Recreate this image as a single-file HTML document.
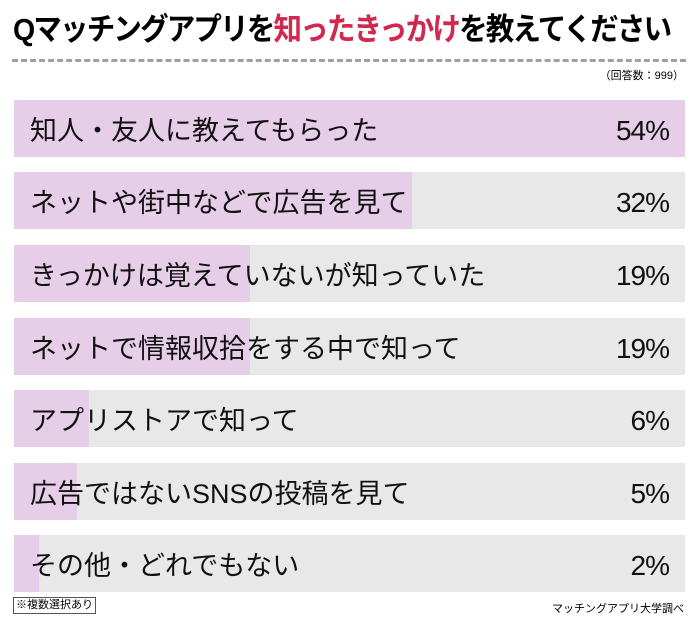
<!DOCTYPE html>
<html><head><meta charset="utf-8"><style>
body{margin:0;width:700px;height:629px;background:#fff;font-family:"Liberation Sans","Noto Sans CJK JP",sans-serif;position:relative;overflow:hidden}
.t{position:absolute;left:13px;top:8px;font-size:31px;font-weight:bold;letter-spacing:-2px;white-space:nowrap;line-height:44px;transform:scaleX(0.92);transform-origin:left}
.t span{color:#d0294f}
.dash{position:absolute;left:12px;top:59px;width:674px;border-top:3px dashed #a0a0a0}
.n{position:absolute;right:16px;top:67px;font-size:11px}
.row{position:absolute;left:14px;width:671px;height:57px;background:#e8e8e8}
.f{position:absolute;left:0;top:0;height:100%;background:#e6cde8}
.l{position:absolute;left:16px;top:0;line-height:63px;font-size:27px;white-space:nowrap;color:#111}
.p{position:absolute;right:16px;top:0;line-height:62px;font-size:28px;color:#111;letter-spacing:-1px}
.note{position:absolute;left:13px;top:597px;font-size:11px;border:1px solid #555;padding:0 2px;line-height:15px}
.src{position:absolute;right:16px;top:600px;font-size:11px}
</style></head><body>
<div class="t">Qマッチングアプリを<span>知ったきっかけ</span>を教えてください</div>
<div class="dash"></div>
<div class="n">（回答数：999）</div>
<div class="row" style="top:100px"><div class="f" style="width:671px"></div><div class="l">知人・友人に教えてもらった</div><div class="p">54%</div></div>
<div class="row" style="top:172px"><div class="f" style="width:398px"></div><div class="l">ネットや街中などで広告を見て</div><div class="p">32%</div></div>
<div class="row" style="top:245px"><div class="f" style="width:236px"></div><div class="l">きっかけは覚えていないが知っていた</div><div class="p">19%</div></div>
<div class="row" style="top:318px"><div class="f" style="width:236px"></div><div class="l">ネットで情報収拾をする中で知って</div><div class="p">19%</div></div>
<div class="row" style="top:390px"><div class="f" style="width:75px"></div><div class="l">アプリストアで知って</div><div class="p">6%</div></div>
<div class="row" style="top:463px"><div class="f" style="width:63px"></div><div class="l">広告ではないSNSの投稿を見て</div><div class="p">5%</div></div>
<div class="row" style="top:535px"><div class="f" style="width:25px"></div><div class="l">その他・どれでもない</div><div class="p">2%</div></div>
<div class="note">※複数選択あり</div>
<div class="src">マッチングアプリ大学調べ</div>
</body></html>
